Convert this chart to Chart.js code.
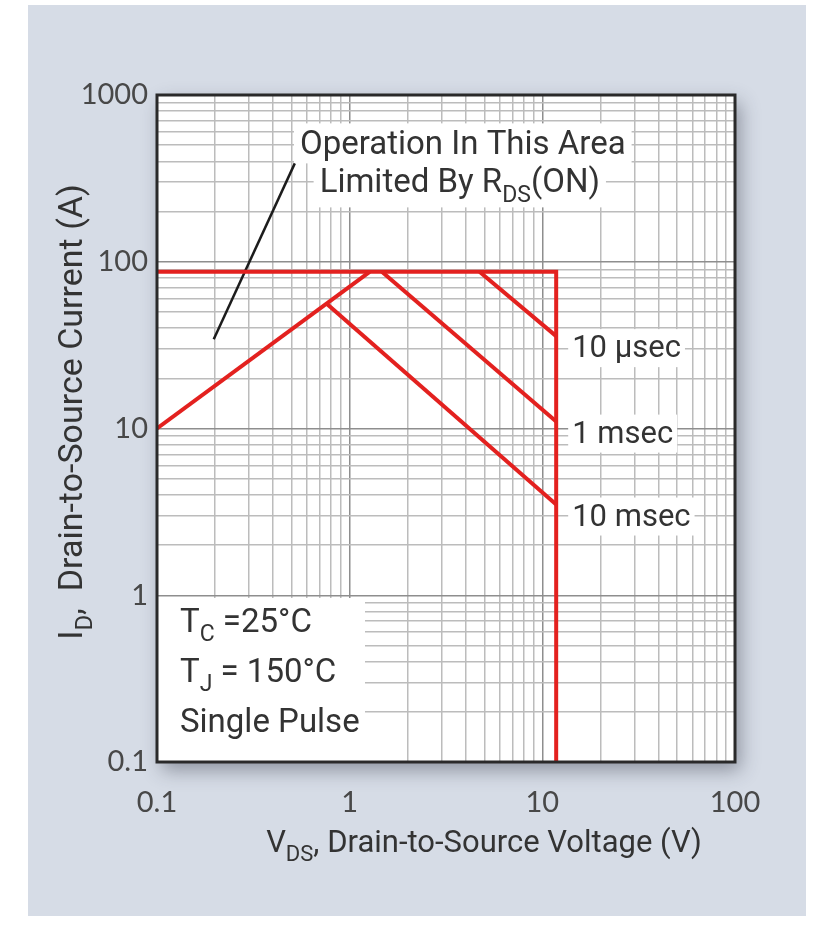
<!DOCTYPE html>
<html>
<head>
<meta charset="utf-8">
<title>Maximum Safe Operating Area</title>
<script src="https://cdn.jsdelivr.net/npm/chart.js@4.4.1/dist/chart.umd.min.js"></script>
<style>
  html, body { margin: 0; padding: 0; background: #fff; }
  #wrap { position: relative; width: 820px; height: 925px; }
</style>
</head>
<body>
<div id="wrap"><canvas id="soa" width="820" height="925"></canvas></div>
<script>
// tick labels
const xTickLabels = [0.1, 1, 10, 100];
const yTickLabels = [0.1, 1, 10, 100, 1000];

// R_DS(on) limited region
const rdsV = [0.1, 1.27];
const rdsI = [10, 87];
// package current limit and breakdown voltage
const limitV = [0.1, 11.8, 11.8];
const limitI = [87, 87, 0.1];
// single pulse lines
const pulseNames = ['10 µsec', '1 msec', '10 msec'];
const pulseV = [[4.72, 11.8], [1.47, 11.8], [0.76, 11.8]];
const pulseI = [[87, 35.8], [87, 11.0], [56, 3.5]];
// leader line for the R_DS(on) note
const noteV = [0.197, 0.519];
const noteI = [34.3, 389];

const red = '#e3211f';
const textColor = '#333';
const minorGrid = '#bcbcbc';
const majorGrid = '#8e8e8e';

function points(xs, ys) {
    return xs.map((x, i) => ({ x: x, y: ys[i] }));
}

// 1..9 per decade, for the graph paper grid
function logGrid(min, max) {
    const vals = [];
    for (let e = Math.round(Math.log10(min)); e < Math.round(Math.log10(max)); e++) {
        for (let m = 1; m < 10; m++) vals.push(m * 10 ** e);
    }
    vals.push(max);
    return vals.map(v => ({ value: v }));
}

function isDecade(v) {
    const l = Math.log10(v);
    return Math.abs(l - Math.round(l)) < 1e-6;
}

// text with subscripts: parts = [{t: 'V'}, {t: 'DS', sub: true}, ...]
function richWidth(ctx, parts, size) {
    let w = 0;
    parts.forEach(p => {
        ctx.font = (p.sub ? Math.round(size * 0.7) : size) + 'px Roboto';
        w += ctx.measureText(p.t).width;
    });
    return w;
}

function drawRich(ctx, parts, x, y, size, align) {
    const w = richWidth(ctx, parts, size);
    let cx = align === 'center' ? x - w / 2 : x;
    ctx.textAlign = 'left';
    ctx.textBaseline = 'alphabetic';
    ctx.fillStyle = textColor;
    parts.forEach(p => {
        ctx.font = (p.sub ? Math.round(size * 0.7) : size) + 'px Roboto';
        ctx.fillText(p.t, cx, p.sub ? y + size * 0.28 : y);
        cx += ctx.measureText(p.t).width;
    });
}

const noteLine1 = [{ t: 'Operation In This Area' }];
const noteLine2 = [{ t: 'Limited By R' }, { t: 'DS', sub: true }, { t: '(ON)' }];
const condLines = [
    [{ t: 'T' }, { t: 'C', sub: true }, { t: ' =25°C' }],
    [{ t: 'T' }, { t: 'J', sub: true }, { t: ' = 150°C' }],
    [{ t: 'Single Pulse' }]
];
const xTitle = [{ t: 'V' }, { t: 'DS', sub: true }, { t: ', Drain-to-Source Voltage (V)' }];
const yTitle = [{ t: 'I' }, { t: 'D', sub: true }, { t: ',  Drain-to-Source Current (A)' }];

const noteSize = 33;
const labelSize = 31;

const soaPlugin = {
    id: 'soaDecor',
    beforeDraw(chart) {
        const ctx = chart.ctx;
        const a = chart.chartArea;
        ctx.save();
        // panel
        ctx.fillStyle = '#d6dce6';
        ctx.fillRect(28, 5, 778, 911);
        // plot paper with drop shadow
        ctx.shadowColor = 'rgba(50, 55, 70, 0.45)';
        ctx.shadowBlur = 18;
        ctx.shadowOffsetX = 5;
        ctx.shadowOffsetY = 8;
        ctx.fillStyle = '#fff';
        ctx.fillRect(a.left, a.top, a.right - a.left, a.bottom - a.top);
        ctx.restore();
    },
    beforeDatasetsDraw(chart) {
        const ctx = chart.ctx;
        const a = chart.chartArea;
        const xs = chart.scales.x;
        const ys = chart.scales.y;
        ctx.save();
        ctx.fillStyle = '#fff';
        // note boxes
        const nx = xs.getPixelForValue(noteV[1]) + 168;
        const ny = ys.getPixelForValue(noteI[1]) - 9;
        let w = richWidth(ctx, noteLine1, noteSize);
        ctx.fillRect(nx - w / 2 - 6, ny - 31, w + 12, 40);
        w = richWidth(ctx, noteLine2, noteSize);
        ctx.fillRect(nx - 3 - w / 2 - 6, ny + 7, w + 12, 46);
        // pulse label boxes
        pulseNames.forEach((name, i) => {
            const px = xs.getPixelForValue(pulseV[i][1]) + 16;
            const py = ys.getPixelForValue(pulseI[i][1]) + 21;
            const lw = richWidth(ctx, [{ t: name }], labelSize);
            ctx.fillRect(px - 4, py - 28, lw + 8, 38);
        });
        // conditions box
        ctx.fillRect(a.left, a.bottom - 164, 208, 164);
        ctx.restore();
    },
    afterDatasetsDraw(chart) {
        const ctx = chart.ctx;
        const a = chart.chartArea;
        const xs = chart.scales.x;
        const ys = chart.scales.y;
        ctx.save();
        // frame
        ctx.strokeStyle = '#2a2a2a';
        ctx.lineWidth = 3;
        ctx.strokeRect(a.left, a.top, a.right - a.left, a.bottom - a.top);

        const nx = xs.getPixelForValue(noteV[1]) + 168;
        const ny = ys.getPixelForValue(noteI[1]) - 9;
        drawRich(ctx, noteLine1, nx, ny, noteSize, 'center');
        drawRich(ctx, noteLine2, nx - 3, ny + 38, noteSize, 'center');

        pulseNames.forEach((name, i) => {
            const px = xs.getPixelForValue(pulseV[i][1]) + 16;
            const py = ys.getPixelForValue(pulseI[i][1]) + 21;
            drawRich(ctx, [{ t: name }], px, py, labelSize, 'left');
        });

        condLines.forEach((line, i) => {
            drawRich(ctx, line, a.left + 23, a.bottom - 130 + i * 50, noteSize, 'left');
        });

        // axis titles
        drawRich(ctx, xTitle, 484, 852, 31, 'center');
        ctx.translate(70, 412);
        ctx.rotate(-Math.PI / 2);
        drawRich(ctx, yTitle, 0, 12, 34, 'center');
        ctx.restore();
    }
};

const lineStyle = { showLine: true, pointRadius: 0, fill: false, tension: 0, borderJoinStyle: 'miter' };

const datasets = [
    Object.assign({ data: points(rdsV, rdsI), borderColor: red, borderWidth: 4 }, lineStyle),
    Object.assign({ data: points(limitV, limitI), borderColor: red, borderWidth: 4 }, lineStyle)
];
pulseV.forEach((xs, i) => {
    datasets.push(Object.assign({ label: pulseNames[i], data: points(xs, pulseI[i]), borderColor: red, borderWidth: 4 }, lineStyle));
});
datasets.push(Object.assign({ data: points(noteV, noteI), borderColor: '#1c1c1c', borderWidth: 2.5 }, lineStyle));

function gridColor(ctx) {
    return isDecade(ctx.tick.value) ? majorGrid : minorGrid;
}

new Chart(document.getElementById('soa'), {
    type: 'scatter',
    data: { datasets: datasets },
    options: {
        responsive: false,
        animation: false,
        events: [],
        layout: { padding: { left: 0, top: 95, right: 85, bottom: 63 } },
        plugins: { legend: { display: false }, tooltip: { enabled: false } },
        scales: {
            x: {
                type: 'logarithmic',
                min: 0.1,
                max: 100,
                afterBuildTicks: s => { s.ticks = logGrid(0.1, 100); },
                afterFit: s => { s.height = 100; },
                border: { display: false },
                grid: { color: gridColor, lineWidth: 1.5, drawTicks: false },
                ticks: {
                    autoSkip: false,
                    maxRotation: 0,
                    padding: 23,
                    color: '#484848',
                    font: { family: 'Lato', size: 29 },
                    callback: v => xTickLabels.includes(v) ? String(v) : ''
                }
            },
            y: {
                type: 'logarithmic',
                min: 0.1,
                max: 1000,
                afterBuildTicks: s => { s.ticks = logGrid(0.1, 1000); },
                afterFit: s => { s.width = 157; },
                border: { display: false },
                grid: { color: gridColor, lineWidth: 1.5, drawTicks: false },
                ticks: {
                    autoSkip: false,
                    padding: 9,
                    color: '#484848',
                    font: { family: 'Lato', size: 29 },
                    callback: v => yTickLabels.includes(v) ? String(v) : ''
                }
            }
        }
    },
    plugins: [soaPlugin]
});
</script>
</body>
</html>
